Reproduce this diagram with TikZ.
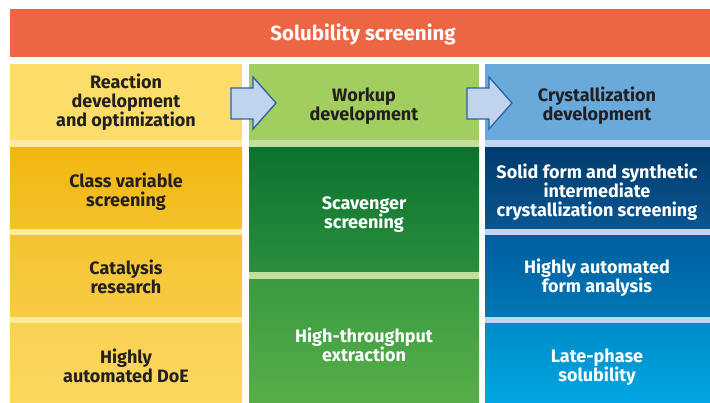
\documentclass[tikz,border=0pt]{standalone}
\usepackage{fontspec}
\setmainfont{Fira Sans}
\definecolor{titlec}{HTML}{EC6643}
\definecolor{txtdark}{HTML}{231F20}
\definecolor{yhead}{HTML}{FDDD6A}
\definecolor{ystrip}{HTML}{FEEB9F}
\definecolor{yaT}{HTML}{F1B711}\definecolor{yaB}{HTML}{F4C12A}
\definecolor{ybT}{HTML}{F5C331}\definecolor{ybB}{HTML}{F8CB45}
\definecolor{ycT}{HTML}{F9D154}\definecolor{ycB}{HTML}{FCD85F}
\definecolor{ghead}{HTML}{A2CD5F}
\definecolor{gstrip}{HTML}{C4DF9D}
\definecolor{gaT}{HTML}{0B722F}\definecolor{gaB}{HTML}{2A8E3D}
\definecolor{gbT}{HTML}{3A9B42}\definecolor{gbB}{HTML}{57AE48}
\definecolor{bhead}{HTML}{6AAADB}
\definecolor{bstrip}{HTML}{C1D6EE}
\definecolor{baT}{HTML}{003B6D}\definecolor{baB}{HTML}{0B5690}
\definecolor{bbT}{HTML}{005F9E}\definecolor{bbB}{HTML}{0077B6}
\definecolor{bcT}{HTML}{008BC9}\definecolor{bcB}{HTML}{00A6E2}
\definecolor{arrfill}{HTML}{C0D5ED}
\definecolor{arrline}{HTML}{2A62A8}
\tikzset{
  lbl/.style={font=\fontsize{18}{19}\selectfont\bfseries, align=center, inner sep=0pt},
  darklbl/.style={lbl, text=txtdark},
  lightlbl/.style={lbl, text=white},
  flowarrow/.style={fill=arrfill, draw=arrline, line width=1.3pt, line join=miter},
}
\begin{document}
\begin{tikzpicture}[x=1pt,y=-1pt]
\useasboundingbox[fill=white] (0,0) rectangle (710,402);
% title
\fill[titlec] (10,9) rectangle (710,57);
\node[lightlbl, font=\fontsize{20.5}{22}\selectfont\bfseries] (title) at (363,34) {Solubility screening};
% column 1
\fill[ystrip] (10,64) rectangle (242,402);
\fill[yhead] (10,64) rectangle (242,140);
\fill[top color=yaT, bottom color=yaB] (10,147) rectangle (242,228);
\fill[top color=ybT, bottom color=ybB] (10,235) rectangle (242,316);
\fill[top color=ycT, bottom color=ycB] (10,323) rectangle (242,402);
% column 2
\fill[gstrip] (249,64) rectangle (479,402);
\fill[ghead] (249,64) rectangle (479,140);
\fill[top color=gaT, bottom color=gaB] (249,147) rectangle (479,271);
\fill[top color=gbT, bottom color=gbB] (249,279) rectangle (479,402);
% column 3
\fill[bstrip] (485,64) rectangle (710,402);
\fill[bhead] (485,64) rectangle (710,140);
\fill[top color=baT, bottom color=baB] (485,147) rectangle (710,228);
\fill[top color=bbT, bottom color=bbB] (485,235) rectangle (710,316);
\fill[top color=bcT, bottom color=bcB] (485,323) rectangle (710,402);
% arrows
\draw[flowarrow] (231,88) -- (253,88) -- (253,77) -- (276,103) -- (253,129) -- (253,119) -- (231,119) -- cycle;
\draw[flowarrow] (467,88) -- (489,88) -- (489,77) -- (512,103) -- (489,129) -- (489,119) -- (467,119) -- cycle;
% labels
\node[darklbl] (h1) at (126,102) {Reaction\\development\\and optimization};
\node[darklbl] (a1) at (126,191.5) {Class variable\\screening};
\node[darklbl] (a2) at (126,277) {Catalysis\\research};
\node[darklbl] (a3) at (126,366) {Highly\\automated DoE};
\node[darklbl] (h2) at (364,106) {Workup\\development};
\node[lightlbl] (b1) at (364,214.5) {Scavenger\\screening};
\node[lightlbl] (b2) at (364,345) {High-throughput\\extraction};
\node[darklbl] (h3) at (597,106) {Crystallization\\development};
\node[lightlbl] (c1) at (597,192) {Solid form and synthetic\\intermediate\\crystallization screening};
\node[lightlbl] (c2) at (597,278) {Highly automated\\form analysis};
\node[lightlbl] (c3) at (597,367.5) {Late-phase\\solubility};
\end{tikzpicture}
\end{document}
